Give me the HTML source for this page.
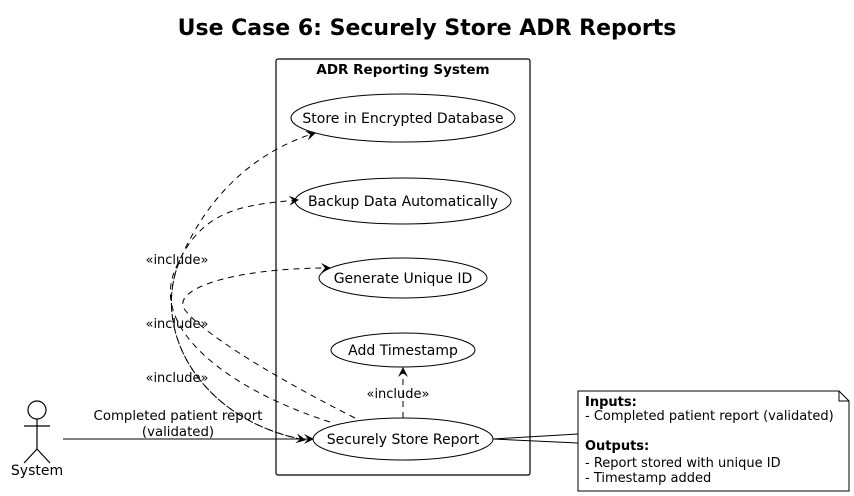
<!DOCTYPE html>
<html><head><meta charset="utf-8"><style>body{margin:0;background:#fff}svg{display:block}</style></head><body>
<svg width="854" height="496" viewBox="0 0 854 496" xmlns="http://www.w3.org/2000/svg" font-family="'DejaVu Sans','Liberation Sans',sans-serif">
<defs>
<marker id="ar" viewBox="0 0 10 10" refX="9" refY="5" markerWidth="10" markerHeight="10" orient="auto" markerUnits="userSpaceOnUse"><path d="M0,0 L10,5 L0,10 L4,5 Z" fill="#000"/></marker>
</defs>
<text x="427" y="35" font-size="22" font-weight="bold" text-anchor="middle">Use Case 6: Securely Store ADR Reports</text>
<rect x="276" y="59" width="254" height="416" rx="2" fill="none" stroke="#000" stroke-width="1.2"/>
<text x="403" y="74" font-size="13.5" font-weight="bold" text-anchor="middle">ADR Reporting System</text>
<g fill="#fff" stroke="#000" stroke-width="1">
<ellipse cx="403" cy="118" rx="112" ry="24"/>
<ellipse cx="403" cy="201" rx="108" ry="23"/>
<ellipse cx="403" cy="278" rx="84" ry="20"/>
<ellipse cx="403" cy="350" rx="72" ry="17"/>
<ellipse cx="403" cy="439" rx="90" ry="21"/>
</g>
<g font-size="14" text-anchor="middle">
<text x="403" y="123">Store in Encrypted Database</text>
<text x="403" y="206">Backup Data Automatically</text>
<text x="403" y="283">Generate Unique ID</text>
<text x="403" y="355">Add Timestamp</text>
<text x="403" y="444">Securely Store Report</text>
</g>
<g fill="none" stroke="#000" stroke-width="1" stroke-dasharray="6,5">
<path d="M305,440 C200,420 150,330 180,260 S260,150 315,133" marker-end="url(#ar)"/>
<path d="M180,260 C150,330 200,420 305,440" marker-end="url(#ar)"/>
<path d="M330,422 C230,390 150,330 175,270 S240,205 298,200" marker-end="url(#ar)"/>
<path d="M355,418 C260,370 200,330 185,310 S230,268 330,268" marker-end="url(#ar)"/>
<path d="M403,418 L403,368" marker-end="url(#ar)"/>
</g>
<g font-size="13" text-anchor="middle">
<text x="177" y="264">«include»</text>
<text x="177" y="328">«include»</text>
<text x="177" y="382">«include»</text>
<text x="398" y="398">«include»</text>
</g>
<g fill="none" stroke="#000" stroke-width="1.2">
<circle cx="37" cy="410" r="9"/>
<line x1="37" y1="419" x2="37" y2="449"/>
<line x1="24" y1="426" x2="50" y2="426"/>
<line x1="37" y1="449" x2="24" y2="463"/>
<line x1="37" y1="449" x2="50" y2="463"/>
</g>
<text x="37" y="475" font-size="14" text-anchor="middle">System</text>
<line x1="63" y1="439" x2="313" y2="439" stroke="#000" stroke-width="1" marker-end="url(#ar)"/>
<text x="178" y="420" font-size="13.3" text-anchor="middle">Completed patient report</text>
<text x="178" y="436" font-size="13.3" text-anchor="middle">(validated)</text>
<g fill="none" stroke="#000" stroke-width="1">
<line x1="493" y1="439" x2="578" y2="434"/>
<line x1="493" y1="439" x2="578" y2="443"/>
<path d="M578,391 L839,391 L849,401 L849,491 L578,491 Z" fill="#fff"/>
<path d="M839,391 L839,401 L849,401"/>
</g>
<g font-size="13">
<text x="585" y="406" font-weight="bold">Inputs:</text>
<text x="585" y="420">- Completed patient report (validated)</text>
<text x="585" y="450" font-weight="bold">Outputs:</text>
<text x="585" y="467">- Report stored with unique ID</text>
<text x="585" y="482">- Timestamp added</text>
</g>
</svg>
</body></html>
